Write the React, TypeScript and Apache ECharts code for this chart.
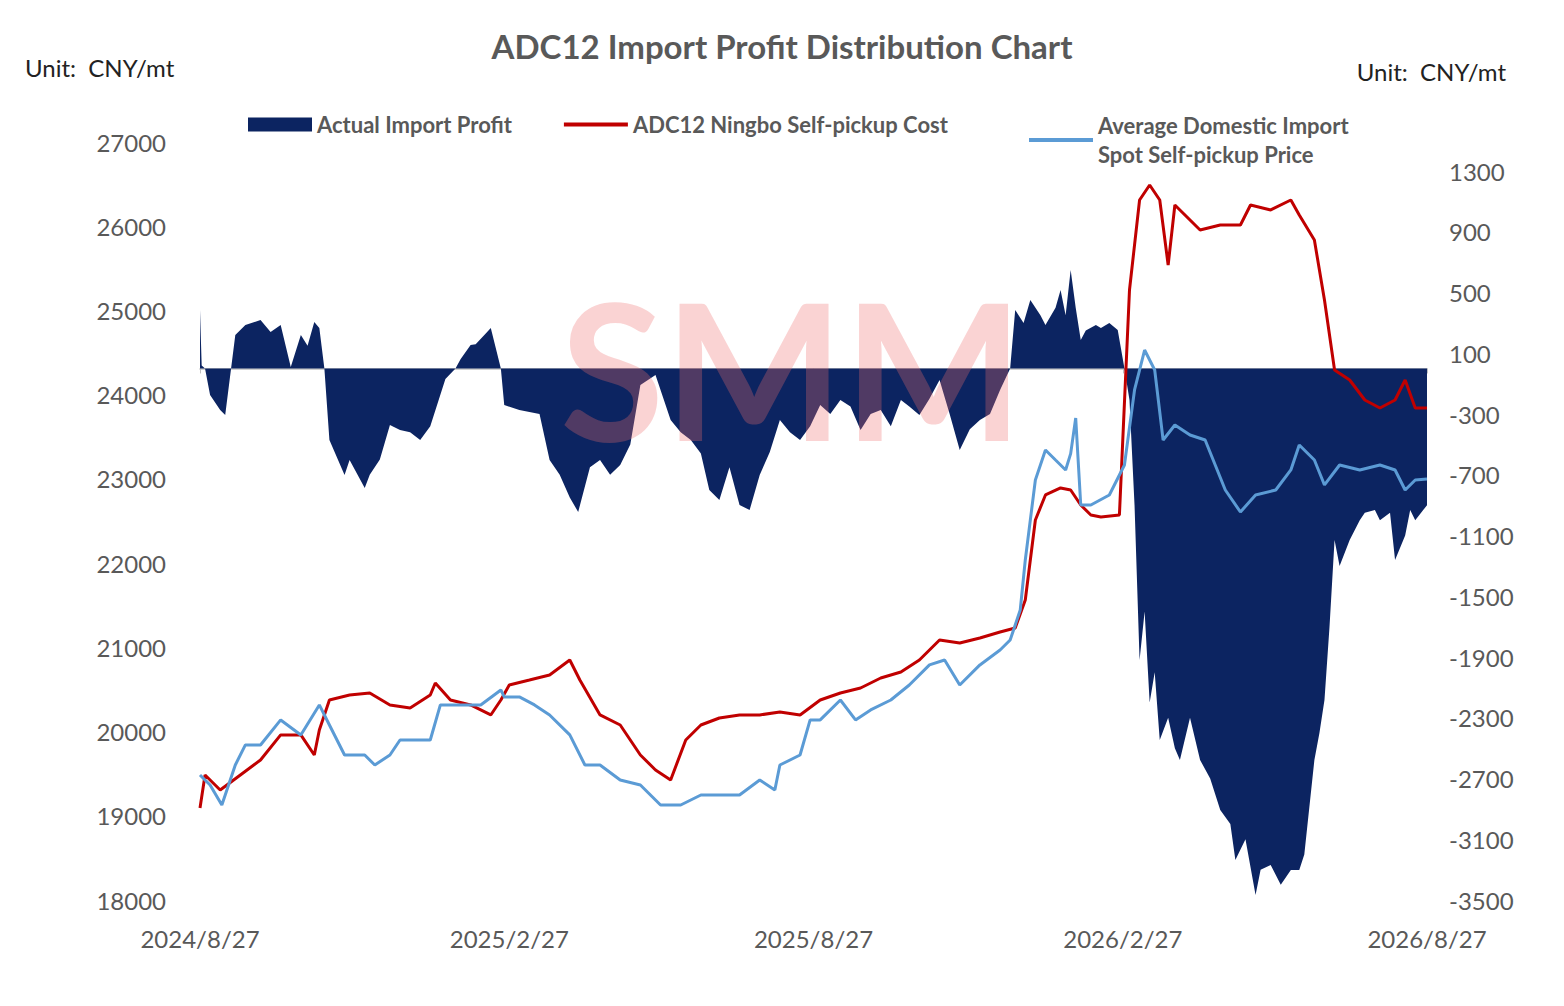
import { useEffect, useRef } from 'react';
import * as echarts from 'echarts';

// day offsets from 2024/8/27
const START = new Date(2024, 7, 27);
const TOTAL_DAYS = 730;
const X_LABEL_DAYS = [0, 184, 365, 549, 730];

const PROFIT_DAYS = [0, 1, 3, 6, 12, 15, 21, 27, 36, 42, 48, 54, 60, 64, 68, 71, 74, 77, 86, 89, 98, 101, 107, 113, 119, 125, 131, 137, 146, 152, 155, 161, 164, 170, 173, 179, 181, 190, 202, 208, 214, 220, 225, 232, 238, 244, 250, 256, 262, 271, 280, 286, 292, 298, 303, 309, 315, 321, 327, 333, 339, 345, 351, 357, 363, 369, 375, 381, 387, 393, 399, 405, 411, 417, 422, 428, 434, 440, 446, 452, 458, 464, 470, 476, 482, 485, 490, 494, 500, 503, 509, 512, 515, 518, 521, 524, 527, 533, 536, 541, 546, 550, 553, 556, 559, 562, 565, 568, 571, 576, 580, 583, 589, 595, 601, 607, 613, 616, 622, 628, 631, 637, 643, 649, 654, 657, 663, 666, 669, 672, 675, 678, 684, 690, 693, 699, 702, 708, 711, 717, 720, 723, 730];
const PROFIT = [385, 20, 0, -175, -274, -307, 220, 286, 319, 240, 286, 10, 220, 150, 306, 266, 0, -471, -702, -603, -787, -700, -600, -372, -405, -420, -471, -380, -70, 0, 60, 154, 160, 230, 266, 0, -241, -274, -300, -603, -700, -850, -945, -650, -603, -700, -636, -500, -109, -43, -339, -420, -471, -560, -800, -866, -650, -899, -932, -702, -550, -339, -420, -471, -380, -241, -300, -208, -250, -405, -300, -274, -380, -208, -250, -307, -200, -76, -300, -537, -400, -339, -300, -142, 0, 385, 300, 451, 350, 286, 400, 516, 350, 648, 400, 187, 250, 286, 266, 300, 253, 0, -208, -900, -1920, -1600, -2200, -2000, -2446, -2300, -2500, -2578, -2300, -2578, -2700, -2907, -3000, -3236, -3100, -3467, -3300, -3269, -3400, -3302, -3302, -3200, -2578, -2400, -2183, -1700, -1130, -1300, -1130, -1000, -950, -932, -1000, -950, -1261, -1100, -932, -1000, -900];

const COST_DAYS = [0, 3, 12, 24, 36, 48, 60, 68, 71, 77, 89, 101, 113, 125, 137, 140, 149, 161, 173, 179, 184, 196, 208, 220, 226, 238, 250, 262, 271, 280, 289, 298, 309, 321, 333, 345, 357, 369, 381, 393, 405, 417, 428, 440, 452, 464, 476, 485, 491, 497, 503, 512, 518, 524, 530, 536, 547, 553, 559, 565, 571, 576, 580, 586, 595, 607, 619, 625, 637, 649, 654, 663, 669, 675, 684, 693, 702, 711, 717, 723, 730];
const COST = [19093, 19484, 19306, 19484, 19663, 19960, 19960, 19722, 20019, 20375, 20434, 20458, 20316, 20280, 20434, 20577, 20375, 20316, 20197, 20375, 20553, 20612, 20672, 20850, 20612, 20197, 20078, 19722, 19544, 19425, 19900, 20078, 20161, 20197, 20197, 20233, 20197, 20375, 20458, 20517, 20636, 20707, 20850, 21087, 21052, 21111, 21182, 21230, 21562, 22512, 22809, 22892, 22868, 22690, 22571, 22548, 22571, 25243, 26311, 26489, 26311, 25540, 26252, 26133, 25955, 26015, 26015, 26252, 26193, 26311, 26133, 25836, 25124, 24293, 24174, 23937, 23842, 23937, 24174, 23842, 23842];

const PRICE_DAYS = [0, 6, 13, 21, 27, 36, 48, 60, 71, 77, 86, 98, 104, 113, 119, 137, 143, 152, 167, 179, 181, 190, 199, 208, 220, 229, 238, 250, 262, 274, 286, 298, 321, 333, 342, 345, 357, 363, 369, 381, 390, 399, 411, 422, 434, 443, 452, 464, 476, 482, 488, 491, 497, 503, 509, 515, 518, 521, 524, 530, 541, 550, 556, 562, 568, 573, 580, 589, 598, 604, 610, 619, 628, 640, 649, 654, 663, 669, 678, 690, 702, 711, 717, 723, 730];
const PRICE = [19484, 19366, 19128, 19603, 19841, 19841, 20138, 19960, 20316, 20078, 19722, 19722, 19603, 19722, 19900, 19900, 20316, 20316, 20316, 20494, 20411, 20411, 20316, 20197, 19960, 19603, 19603, 19425, 19366, 19128, 19128, 19247, 19247, 19425, 19306, 19603, 19722, 20138, 20138, 20375, 20138, 20257, 20375, 20553, 20791, 20850, 20553, 20791, 20968, 21087, 21443, 22037, 22987, 23343, 23224, 23106, 23300, 23723, 22690, 22690, 22809, 23165, 24056, 24530, 24293, 23462, 23640, 23521, 23462, 23165, 22868, 22607, 22809, 22868, 23106, 23402, 23224, 22928, 23165, 23106, 23165, 23106, 22868, 22987, 23000];

const NAMES = ['Actual Import Profit', 'ADC12 Ningbo Self-pickup Cost', 'Average Domestic Import\nSpot Self-pickup Price'];

const pairs = (d: number[], v: number[]) => d.map((x, i) => [x, v[i]]);
const dayLabel = (n: number) => {
  const t = new Date(START.getTime() + n * 86400000);
  return `${t.getFullYear()}/${t.getMonth() + 1}/${t.getDate()}`;
};

const FONT = 'Lato, "Open Sans", sans-serif';
const GRAY = '#595959';
const LINE_ICON = 'path://M0,0h62v4h-62z';
const legendText = { fontSize: 22, color: GRAY, fontFamily: FONT, fontWeight: 'bold', lineHeight: 29 };

export default function App() {
  const ref = useRef<HTMLDivElement>(null);

  useEffect(() => {
    document.body.style.margin = '0';
    if (!ref.current) return;
    const chart = echarts.init(ref.current, undefined, { renderer: 'svg' });
    const cats = Array.from({ length: TOTAL_DAYS + 1 }, (_, i) => String(i));
    const showIdx = (i: number) => X_LABEL_DAYS.includes(i);

    chart.setOption({
      animation: false,
      textStyle: { fontFamily: FONT },
      title: {
        text: 'ADC12 Import Profit Distribution Chart',
        left: 'center',
        top: 24,
        textStyle: { fontSize: 33, fontWeight: 'bold', color: GRAY, fontFamily: FONT },
      },
      graphic: [
        { type: 'text', left: 25, top: 55, style: { text: 'Unit:  CNY/mt', fontSize: 24, fill: '#222', fontFamily: FONT } },
        { type: 'text', right: 58, top: 59, style: { text: 'Unit:  CNY/mt', fontSize: 24, fill: '#222', fontFamily: FONT } },
        {
          type: 'text', left: 560, top: 272, z: 10,
          style: { text: 'SMM', fontSize: 190, fontWeight: 'bold', fill: 'rgba(240,110,110,0.3)', fontFamily: FONT },
        },
      ],
      legend: [
        {
          top: 105,
          left: 243,
          itemGap: 52,
          itemWidth: 64,
          itemHeight: 14,
          textStyle: legendText,
          data: [
            { name: NAMES[0], icon: 'rect' },
            { name: NAMES[1], icon: LINE_ICON },
          ],
        },
        {
          top: 106,
          left: 1024,
          itemWidth: 64,
          itemHeight: 14,
          textStyle: legendText,
          data: [{ name: NAMES[2], icon: LINE_ICON }],
        },
      ],
      grid: { left: 200, right: 137, top: 142, bottom: 106 },
      xAxis: {
        type: 'category',
        data: cats,
        boundaryGap: false,
        axisLine: { lineStyle: { color: '#bfbfbf', width: 1.5 } },
        axisTick: { interval: (i: number) => showIdx(i), lineStyle: { color: '#bfbfbf' } },
        axisLabel: {
          interval: (i: number) => showIdx(i),
          formatter: (v: string) => dayLabel(Number(v)),
          fontSize: 24, color: GRAY, margin: 26,
          showMinLabel: true, showMaxLabel: true,
        },
      },
      yAxis: [
        {
          type: 'value', min: 18000, max: 27000, interval: 1000,
          splitLine: { show: false },
          axisLabel: { fontSize: 24, color: GRAY, margin: 34, formatter: (v: number) => String(v) },
        },
        {
          type: 'value', min: -3500, max: 1491, interval: 400,
          splitLine: { show: false },
          axisLabel: { fontSize: 24, color: GRAY, margin: 22, showMaxLabel: false, formatter: (v: number) => String(v) },
        },
      ],
      series: [
        {
          name: NAMES[0],
          type: 'line',
          yAxisIndex: 1,
          symbol: 'none',
          lineStyle: { width: 0 },
          itemStyle: { color: '#0c2461' },
          areaStyle: { color: '#0c2461', opacity: 1, origin: 0 },
          data: pairs(PROFIT_DAYS, PROFIT),
        },
        {
          name: NAMES[1],
          type: 'line',
          symbol: 'none',
          lineStyle: { width: 3, color: '#c00000' },
          itemStyle: { color: '#c00000' },
          data: pairs(COST_DAYS, COST),
        },
        {
          name: NAMES[2],
          type: 'line',
          symbol: 'none',
          lineStyle: { width: 3, color: '#5b9bd5' },
          itemStyle: { color: '#5b9bd5' },
          data: pairs(PRICE_DAYS, PRICE),
        },
      ],
    });
    return () => chart.dispose();
  }, []);

  return <div ref={ref} style={{ width: 1564, height: 1006 }} />;
}
